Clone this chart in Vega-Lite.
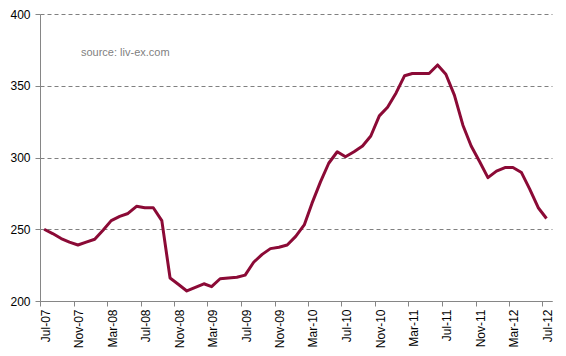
{
  "$schema": "https://vega.github.io/schema/vega-lite/v6.json",
  "autosize": "none",
  "width": 512,
  "height": 287,
  "padding": {"left": 40, "top": 14, "right": 14, "bottom": 55},
  "background": "white",
  "config": {"view": {"stroke": null}, "font": "Liberation Sans", "axisX": {"labelOverlap": false}},
  "datasets": {
    "index": [
      {"date": "2007-07-16", "value": 250},
      {"date": "2007-08-16", "value": 247},
      {"date": "2007-09-16", "value": 243.5},
      {"date": "2007-10-16", "value": 241},
      {"date": "2007-11-16", "value": 239},
      {"date": "2007-12-16", "value": 241},
      {"date": "2008-01-16", "value": 243},
      {"date": "2008-02-16", "value": 249.5},
      {"date": "2008-03-16", "value": 256},
      {"date": "2008-04-16", "value": 259},
      {"date": "2008-05-16", "value": 261},
      {"date": "2008-06-16", "value": 266},
      {"date": "2008-07-16", "value": 265},
      {"date": "2008-08-16", "value": 265},
      {"date": "2008-09-16", "value": 256},
      {"date": "2008-10-16", "value": 216},
      {"date": "2008-11-16", "value": 211.5},
      {"date": "2008-12-16", "value": 207},
      {"date": "2009-01-16", "value": 209.5},
      {"date": "2009-02-16", "value": 212},
      {"date": "2009-03-16", "value": 210},
      {"date": "2009-04-16", "value": 215.5},
      {"date": "2009-05-16", "value": 216},
      {"date": "2009-06-16", "value": 216.5},
      {"date": "2009-07-16", "value": 218},
      {"date": "2009-08-16", "value": 227},
      {"date": "2009-09-16", "value": 232.5},
      {"date": "2009-10-16", "value": 236.5},
      {"date": "2009-11-16", "value": 237.5},
      {"date": "2009-12-16", "value": 239},
      {"date": "2010-01-16", "value": 245},
      {"date": "2010-02-16", "value": 253},
      {"date": "2010-03-16", "value": 268},
      {"date": "2010-04-16", "value": 283},
      {"date": "2010-05-16", "value": 296},
      {"date": "2010-06-16", "value": 304},
      {"date": "2010-07-16", "value": 300.5},
      {"date": "2010-08-16", "value": 304},
      {"date": "2010-09-16", "value": 308},
      {"date": "2010-10-16", "value": 315},
      {"date": "2010-11-16", "value": 329},
      {"date": "2010-12-16", "value": 335},
      {"date": "2011-01-16", "value": 345},
      {"date": "2011-02-16", "value": 357},
      {"date": "2011-03-16", "value": 358.5},
      {"date": "2011-04-16", "value": 358.5},
      {"date": "2011-05-16", "value": 358.5},
      {"date": "2011-06-16", "value": 364.5},
      {"date": "2011-07-16", "value": 358},
      {"date": "2011-08-16", "value": 343.5},
      {"date": "2011-09-16", "value": 322.5},
      {"date": "2011-10-16", "value": 308},
      {"date": "2011-11-16", "value": 297},
      {"date": "2011-12-16", "value": 286},
      {"date": "2012-01-16", "value": 290.5},
      {"date": "2012-02-16", "value": 293},
      {"date": "2012-03-16", "value": 293},
      {"date": "2012-04-16", "value": 289.5},
      {"date": "2012-05-16", "value": 278},
      {"date": "2012-06-16", "value": 265},
      {"date": "2012-07-16", "value": 257.5}
    ],
    "note": [
      {"date": "2007-11-27", "value": 373, "label": "source: liv-ex.com"}
    ]
  },
  "encoding": {
    "x": {
      "field": "date",
      "type": "temporal",
      "scale": {
        "type": "utc",
        "domain": [
          {"year": 2007, "month": 7, "date": 1, "utc": true},
          {"year": 2012, "month": 8, "date": 5, "utc": true}
        ]
      },
      "axis": {
        "title": null,
        "grid": false,
        "labelExpr": "utcFormat(datum.value, '%b-%y')",
        "values": [
          {"year": 2007, "month": 7, "date": 1, "utc": true},
          {"year": 2007, "month": 11, "date": 1, "utc": true},
          {"year": 2008, "month": 3, "date": 1, "utc": true},
          {"year": 2008, "month": 7, "date": 1, "utc": true},
          {"year": 2008, "month": 11, "date": 1, "utc": true},
          {"year": 2009, "month": 3, "date": 1, "utc": true},
          {"year": 2009, "month": 7, "date": 1, "utc": true},
          {"year": 2009, "month": 11, "date": 1, "utc": true},
          {"year": 2010, "month": 3, "date": 1, "utc": true},
          {"year": 2010, "month": 7, "date": 1, "utc": true},
          {"year": 2010, "month": 11, "date": 1, "utc": true},
          {"year": 2011, "month": 3, "date": 1, "utc": true},
          {"year": 2011, "month": 7, "date": 1, "utc": true},
          {"year": 2011, "month": 11, "date": 1, "utc": true},
          {"year": 2012, "month": 3, "date": 1, "utc": true},
          {"year": 2012, "month": 7, "date": 1, "utc": true}
        ],
        "labelAngle": 270,
        "labelAlign": "right",
        "labelBaseline": "middle",
        "labelOffset": 5,
        "labelPadding": 3,
        "labelFontSize": 12,
        "labelColor": "#000000",
        "labelFont": "Liberation Sans",
        "labelOverlap": false,
        "labelFlush": false,
        "domainColor": "#868686",
        "domainWidth": 1,
        "tickColor": "#868686",
        "tickSize": 5
      }
    },
    "y": {
      "field": "value",
      "type": "quantitative",
      "scale": {"domain": [200, 400], "nice": false, "zero": false},
      "axis": {
        "title": null,
        "values": [200, 250, 300, 350, 400],
        "grid": true,
        "gridColor": "#808080",
        "gridDash": [4, 3],
        "gridWidth": 1,
        "domainColor": "#868686",
        "tickColor": "#868686",
        "tickSize": 5,
        "labelPadding": 5,
        "labelFontSize": 12,
        "labelColor": "#000000",
        "labelFont": "Liberation Sans"
      }
    }
  },
  "layer": [
    {
      "data": {"name": "index"},
      "mark": {"type": "line", "color": "#8B0A36", "strokeWidth": 3, "strokeJoin": "round", "clip": true}
    },
    {
      "data": {"name": "note"},
      "mark": {"type": "text", "align": "left", "baseline": "middle", "fontSize": 11, "color": "#7F7F7F", "font": "Liberation Sans"},
      "encoding": {
        "text": {"field": "label"}
      }
    }
  ]
}
